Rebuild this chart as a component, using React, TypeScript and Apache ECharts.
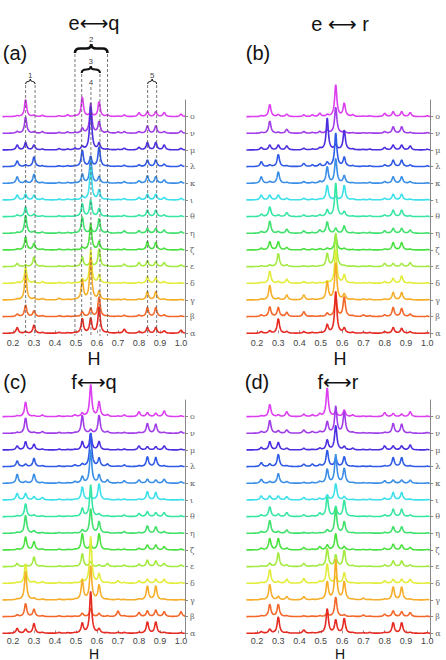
import React, { useEffect, useRef } from "react";
import * as echarts from "echarts";

// Trace labels, bottom (α) to top (ο)
const traceNames = ["α", "β", "γ", "δ", "ε", "ζ", "η", "θ", "ι", "κ", "λ", "μ", "ν", "ο"];
const traceColors = [
  "#e52a22", "#f3672a", "#f5ad2a", "#e2ec3a", "#a2ea40", "#4ae040", "#40e06c",
  "#38e6a4", "#3ce0ea", "#3a8ee6", "#2f5ae6", "#4a2ee0", "#a03de8", "#dc3ef0",
];

// Peak positions along H shared by every spectrum
const peakCenters = [0.22, 0.26, 0.3, 0.34, 0.42, 0.46, 0.495, 0.53, 0.57, 0.61, 0.65, 0.7, 0.73, 0.8, 0.84, 0.88, 0.92, 1.0];

// Peak heights (in units of the trace spacing), one row per trace α..ο
const heightsEQ = [
  [0.35, 0.1, 0.5, 0.05, 0.05, 0.03, 0.03, 0.9, 0.9, 1.6, 0.05, 0.03, 0.25, 0.1, 0.35, 0.35, 0.15, 0.2],
  [0.15, 0.7, 0.35, 0.05, 0.05, 0.03, 0.03, 0.3, 0.5, 1.2, 0.05, 0.03, 0.08, 0.08, 0.55, 0.55, 0.1, 0.05],
  [0.05, 1.6, 0.1, 0.08, 0.1, 0.03, 0.03, 1.2, 2.5, 0.5, 0.05, 0.03, 0.05, 0.05, 0.5, 0.5, 0.05, 0.03],
  [0.05, 1.0, 0.1, 0.1, 0.05, 0.05, 0.03, 0.25, 2.0, 0.5, 0.03, 0.03, 0.05, 0.05, 0.4, 0.35, 0.1, 0.03],
  [0.2, 0.1, 0.6, 0.05, 0.05, 0.05, 0.03, 0.6, 0.4, 1.1, 0.05, 0.03, 0.15, 0.25, 0.35, 0.3, 0.25, 0.1],
  [0.05, 0.8, 0.4, 0.05, 0.05, 0.03, 0.03, 0.15, 1.6, 0.5, 0.03, 0.03, 0.05, 0.05, 0.5, 0.45, 0.1, 0.05],
  [0.05, 1.1, 0.1, 0.08, 0.05, 0.05, 0.03, 1.0, 0.3, 0.9, 0.1, 0.03, 0.15, 0.15, 0.3, 0.3, 0.2, 0.1],
  [0.1, 0.6, 0.15, 0.05, 0.05, 0.03, 0.03, 0.8, 1.0, 0.5, 0.05, 0.03, 0.08, 0.1, 0.4, 0.4, 0.1, 0.05],
  [0.3, 0.35, 0.3, 0.08, 0.05, 0.05, 0.05, 0.2, 2.0, 0.6, 0.05, 0.03, 0.08, 0.15, 0.35, 0.35, 0.15, 0.1],
  [0.4, 0.15, 0.55, 0.05, 0.05, 0.05, 0.03, 0.55, 1.5, 0.4, 0.05, 0.03, 0.1, 0.15, 0.45, 0.4, 0.2, 0.1],
  [0.35, 0.1, 0.6, 0.05, 0.05, 0.05, 0.03, 1.0, 0.6, 1.2, 0.05, 0.03, 0.08, 0.1, 0.4, 0.4, 0.15, 0.1],
  [0.3, 0.45, 0.3, 0.05, 0.08, 0.05, 0.1, 0.2, 2.6, 0.4, 0.05, 0.03, 0.1, 0.15, 0.45, 0.45, 0.3, 0.1],
  [0.1, 1.0, 0.08, 0.1, 0.05, 0.08, 0.05, 0.3, 1.8, 0.7, 0.1, 0.08, 0.1, 0.1, 0.45, 0.45, 0.1, 0.15],
  [0.05, 1.05, 0.08, 0.08, 0.05, 0.1, 0.05, 1.2, 0.3, 0.9, 0.1, 0.03, 0.1, 0.24, 0.3, 0.3, 0.25, 0.15],
];

const heightsER = [
  [0.1, 0.15, 0.9, 0.1, 0.1, 0.05, 0.03, 0.5, 2.5, 0.3, 0.05, 0.05, 0.05, 0.1, 0.35, 0.3, 0.1, 0.03],
  [0.1, 0.6, 0.55, 0.25, 0.3, 0.03, 0.03, 0.2, 1.2, 1.2, 0.05, 0.1, 0.05, 0.1, 0.55, 0.5, 0.15, 0.03],
  [0.05, 0.9, 0.1, 0.3, 0.3, 0.05, 0.03, 1.1, 2.2, 0.35, 0.05, 0.05, 0.05, 0.05, 0.45, 0.45, 0.05, 0.03],
  [0.05, 0.75, 0.1, 0.25, 0.1, 0.05, 0.03, 0.1, 2.0, 0.5, 0.03, 0.03, 0.05, 0.1, 0.3, 0.45, 0.05, 0.03],
  [0.05, 0.1, 0.8, 0.1, 0.05, 0.03, 0.03, 0.8, 2.0, 0.05, 0.03, 0.03, 0.05, 0.2, 0.2, 0.2, 0.25, 0.03],
  [0.1, 0.5, 0.5, 0.15, 0.08, 0.05, 0.08, 0.1, 0.9, 0.1, 0.03, 0.03, 0.03, 0.05, 0.45, 0.45, 0.05, 0.03],
  [0.1, 0.75, 0.1, 0.25, 0.15, 0.05, 0.2, 0.7, 0.3, 0.45, 0.05, 0.05, 0.05, 0.15, 0.3, 0.3, 0.2, 0.03],
  [0.15, 0.6, 0.1, 0.25, 0.1, 0.05, 0.1, 0.4, 2.0, 0.3, 0.03, 0.03, 0.05, 0.1, 0.4, 0.4, 0.05, 0.03],
  [0.3, 0.3, 0.3, 0.1, 0.1, 0.05, 0.05, 0.9, 0.2, 0.9, 0.05, 0.03, 0.05, 0.1, 0.35, 0.35, 0.05, 0.03],
  [0.4, 0.1, 0.7, 0.05, 0.1, 0.05, 0.1, 1.0, 1.5, 0.45, 0.03, 0.03, 0.05, 0.1, 0.4, 0.4, 0.1, 0.03],
  [0.3, 0.1, 0.75, 0.05, 0.2, 0.1, 0.15, 0.25, 2.0, 0.55, 0.05, 0.03, 0.05, 0.1, 0.4, 0.4, 0.1, 0.05],
  [0.15, 0.3, 0.3, 0.25, 0.1, 0.05, 0.1, 1.9, 0.3, 1.2, 0.05, 0.03, 0.05, 0.15, 0.3, 0.3, 0.25, 0.05],
  [0.05, 0.75, 0.05, 0.25, 0.1, 0.05, 0.1, 0.2, 1.6, 0.1, 0.03, 0.03, 0.03, 0.1, 0.4, 0.4, 0.05, 0.05],
  [0.05, 0.75, 0.12, 0.15, 0.1, 0.1, 0.2, 0.1, 1.9, 0.8, 0.1, 0.03, 0.05, 0.2, 0.3, 0.3, 0.25, 0.05],
];

const heightsFQ = [
  [0.3, 0.25, 0.6, 0.05, 0.05, 0.03, 0.03, 0.6, 2.5, 0.25, 0.03, 0.05, 0.05, 0.05, 0.7, 0.7, 0.05, 0.03],
  [0.1, 0.8, 0.45, 0.05, 0.05, 0.03, 0.03, 0.2, 0.5, 0.2, 0.05, 0.35, 0.05, 0.25, 0.35, 0.4, 0.3, 0.3],
  [0.05, 1.7, 0.1, 0.05, 0.05, 0.03, 0.03, 1.2, 2.0, 0.9, 0.03, 0.05, 0.03, 0.05, 0.85, 0.85, 0.05, 0.03],
  [0.05, 1.2, 0.1, 0.1, 0.05, 0.03, 0.03, 0.2, 2.8, 0.55, 0.05, 0.15, 0.05, 0.15, 0.25, 0.25, 0.25, 0.05],
  [0.2, 0.1, 0.6, 0.05, 0.05, 0.03, 0.03, 0.8, 0.3, 0.1, 0.2, 0.03, 0.1, 0.15, 0.4, 0.35, 0.2, 0.1],
  [0.05, 0.8, 0.5, 0.05, 0.05, 0.03, 0.03, 1.0, 0.3, 1.0, 0.05, 0.03, 0.05, 0.1, 0.3, 0.3, 0.2, 0.05],
  [0.05, 1.1, 0.15, 0.05, 0.05, 0.03, 0.03, 0.2, 1.5, 0.7, 0.05, 0.03, 0.1, 0.05, 0.45, 0.4, 0.1, 0.03],
  [0.05, 0.8, 0.1, 0.05, 0.05, 0.03, 0.03, 0.5, 1.9, 0.15, 0.05, 0.03, 0.1, 0.2, 0.3, 0.25, 0.25, 0.05],
  [0.4, 0.4, 0.2, 0.15, 0.05, 0.03, 0.03, 0.8, 0.2, 1.0, 0.05, 0.03, 0.05, 0.05, 0.5, 0.45, 0.05, 0.03],
  [0.55, 0.1, 0.55, 0.05, 0.05, 0.03, 0.1, 0.4, 2.0, 0.5, 0.2, 0.03, 0.15, 0.2, 0.25, 0.2, 0.25, 0.1],
  [0.35, 0.15, 0.5, 0.05, 0.05, 0.03, 0.1, 0.15, 2.0, 0.5, 0.15, 0.03, 0.1, 0.05, 0.6, 0.55, 0.05, 0.05],
  [0.25, 0.5, 0.35, 0.05, 0.05, 0.03, 0.03, 0.5, 1.0, 0.5, 0.03, 0.03, 0.05, 0.25, 0.2, 0.2, 0.25, 0.05],
  [0.05, 0.95, 0.05, 0.1, 0.05, 0.03, 0.03, 1.1, 0.2, 1.1, 0.1, 0.03, 0.05, 0.05, 0.6, 0.55, 0.05, 0.1],
  [0.05, 0.9, 0.05, 0.1, 0.05, 0.03, 0.1, 0.2, 1.9, 0.9, 0.1, 0.03, 0.1, 0.3, 0.25, 0.2, 0.35, 0.05],
];

const heightsFR = [
  [0.1, 0.25, 1.0, 0.05, 0.2, 0.03, 0.03, 1.5, 0.8, 0.9, 0.03, 0.03, 0.05, 0.05, 0.65, 0.65, 0.05, 0.03],
  [0.05, 0.75, 0.75, 0.05, 0.05, 0.03, 0.05, 0.2, 1.2, 0.1, 0.03, 0.1, 0.03, 0.15, 0.35, 0.3, 0.25, 0.03],
  [0.05, 0.95, 0.2, 0.2, 0.2, 0.03, 0.03, 1.1, 2.4, 1.1, 0.03, 0.1, 0.03, 0.05, 0.8, 0.8, 0.05, 0.03],
  [0.05, 0.85, 0.1, 0.25, 0.3, 0.03, 0.1, 1.2, 0.4, 0.65, 0.03, 0.03, 0.03, 0.15, 0.25, 0.25, 0.25, 0.03],
  [0.05, 0.2, 0.85, 0.1, 0.2, 0.05, 0.1, 1.1, 0.7, 1.0, 0.05, 0.03, 0.03, 0.1, 0.35, 0.35, 0.1, 0.03],
  [0.1, 0.7, 0.7, 0.1, 0.15, 0.05, 0.2, 0.3, 1.0, 0.2, 0.05, 0.03, 0.03, 0.1, 0.35, 0.3, 0.15, 0.03],
  [0.1, 0.8, 0.1, 0.2, 0.05, 0.03, 0.03, 0.2, 1.5, 0.7, 0.03, 0.03, 0.03, 0.05, 0.4, 0.4, 0.05, 0.03],
  [0.1, 0.6, 0.15, 0.25, 0.1, 0.05, 0.2, 1.2, 0.6, 1.0, 0.03, 0.03, 0.03, 0.1, 0.45, 0.45, 0.1, 0.03],
  [0.25, 0.25, 0.25, 0.2, 0.15, 0.05, 0.1, 0.3, 1.0, 0.2, 0.03, 0.03, 0.05, 0.1, 0.45, 0.45, 0.05, 0.03],
  [0.25, 0.1, 0.6, 0.1, 0.05, 0.05, 0.1, 0.85, 1.7, 0.9, 0.03, 0.03, 0.03, 0.15, 0.2, 0.2, 0.2, 0.03],
  [0.25, 0.15, 0.75, 0.05, 0.15, 0.15, 0.1, 1.0, 0.5, 0.6, 0.03, 0.03, 0.03, 0.05, 0.55, 0.55, 0.05, 0.03],
  [0.15, 0.5, 0.45, 0.1, 0.1, 0.03, 0.1, 0.6, 1.5, 0.2, 0.1, 0.03, 0.03, 0.25, 0.25, 0.25, 0.3, 0.03],
  [0.1, 0.8, 0.15, 0.2, 0.2, 0.1, 0.1, 0.7, 1.6, 1.3, 0.05, 0.03, 0.03, 0.05, 0.6, 0.55, 0.05, 0.05],
  [0.05, 0.75, 0.1, 0.3, 0.15, 0.1, 0.15, 1.7, 0.3, 0.4, 0.1, 0.03, 0.03, 0.25, 0.2, 0.15, 0.3, 0.03],
];

// H tick labels
const hTicks = [0.2, 0.3, 0.4, 0.5, 0.6, 0.7, 0.8, 0.9, 1.0];

// Grouping brackets drawn over panel (a): [from, to] in H, with their labels
const bracketSpans = [[0.26, 0.305], [0.495, 0.65], [0.527, 0.614], [0.841, 0.884]];
const bracketLabels = ["1", "2", "3", "5"];
const singleMarks = [0.571];
const singleLabels = ["4"];

// Panel layout
const panels = [
  { left: 2.5, top: 100, width: 182.5, xMax: 1.019, heights: heightsEQ, labelMargin: 0.5 },
  { left: 246.4, top: 100, width: 183.8, xMax: 1.014, heights: heightsER, labelMargin: 0.5 },
  { left: 2.5, top: 400, width: 182.5, xMax: 1.019, heights: heightsFQ, labelMargin: -1 },
  { left: 246.4, top: 400, width: 183.8, xMax: 1.014, heights: heightsFR, labelMargin: -1 },
];
const gridHeight = 237.5;
const yMin = -0.25;
const yMax = 14;

const sampleStep = 0.001;
const halfWidth = 0.0062;

function buildTrace(heights: number[], offset: number, xMax: number): number[][] {
  const pts: number[][] = [];
  const n = Math.round((xMax - 0.15) / sampleStep);
  for (let k = 0; k <= n; k++) {
    const x = 0.15 + k * sampleStep;
    let y = offset;
    for (let j = 0; j < peakCenters.length; j++) {
      const d = (x - peakCenters[j]) / halfWidth;
      y += heights[j] / (1 + d * d);
    }
    pts.push([x, y]);
  }
  return pts;
}

// pixel styling of the brackets: [tipY, endY, lineWidth, labelY]
const bracketStyle = [
  [79, 84, 1, 75],
  [44, 53, 2.6, 39],
  [66, 73, 2, 61],
  [79, 84, 1, 75],
];
const singleStyle = [[87, 82]];

function bracePath(x1: number, x2: number, yt: number, yb: number): string {
  const xm = (x1 + x2) / 2;
  const yh = (yt + yb) / 2;
  const r = Math.min(5, (x2 - x1) / 4);
  return (
    `M${x1},${yb} Q${x1},${yh} ${x1 + r},${yh} L${xm - r},${yh} Q${xm},${yh} ${xm},${yt} ` +
    `Q${xm},${yh} ${xm + r},${yh} L${x2 - r},${yh} Q${x2},${yh} ${x2},${yb}`
  );
}

function buildOption() {
  const font = "'Liberation Sans', Arial, 'DejaVu Sans', sans-serif";
  const grid = panels.map((p) => ({ left: p.left, top: p.top, width: p.width, height: gridHeight }));
  const xAxis = panels.map((p, i) => ({
    type: "value",
    gridIndex: i,
    min: 0.15,
    max: p.xMax,
    splitLine: { show: false },
    axisLine: { show: false },
    axisTick: { show: true, inside: true, length: 3, customValues: hTicks, lineStyle: { color: "#999", width: 1 } },
    axisLabel: {
      customValues: hTicks,
      formatter: (v: number) => v.toFixed(1),
      fontSize: 9,
      color: "#444",
      margin: p.labelMargin,
      fontFamily: font,
    },
  }));
  const traceIdx = traceNames.map((_, i) => i);
  const yAxis = panels.map((_, i) => ({
    type: "value",
    gridIndex: i,
    position: "right",
    min: yMin,
    max: yMax,
    splitLine: { show: false },
    axisLine: { show: true, lineStyle: { color: "#888", width: 1 } },
    axisTick: { show: true, length: 3, customValues: traceIdx, lineStyle: { color: "#888" } },
    axisLabel: {
      customValues: traceIdx,
      formatter: (v: number) => traceNames[Math.round(v)] ?? "",
      fontSize: 8,
      color: "#666",
      margin: 5,
      fontFamily: "'DejaVu Serif', serif",
    },
  }));

  const series: any[] = [];
  panels.forEach((p, pi) => {
    for (let i = traceNames.length - 1; i >= 0; i--) {
      series.push({
        type: "line",
        name: `${pi}-${traceNames[i]}`,
        xAxisIndex: pi,
        yAxisIndex: pi,
        data: buildTrace(p.heights[i], i, p.xMax),
        showSymbol: false,
        symbol: "none",
        clip: false,
        silent: true,
        lineStyle: { color: traceColors[i], width: 1.6 },
      });
    }
  });

  // dashed guides and brackets of panel (a)
  series.push({
    type: "custom",
    xAxisIndex: 0,
    yAxisIndex: 0,
    silent: true,
    clip: false,
    z: 5,
    data: [[0.5, 0]],
    renderItem: (_params: any, api: any) => {
      const children: any[] = [];
      const yBottom = api.coord([0.5, -0.15])[1];
      const dash = { stroke: "#555", lineWidth: 0.8, lineDash: [3, 2] };
      bracketSpans.forEach((span, k) => {
        const [tip, end, lw, ly] = bracketStyle[k];
        const x1 = api.coord([span[0], 0])[0];
        const x2 = api.coord([span[1], 0])[0];
        children.push({ type: "line", shape: { x1, y1: end + 1, x2: x1, y2: yBottom }, style: dash });
        children.push({ type: "line", shape: { x1: x2, y1: end + 1, x2, y2: yBottom }, style: dash });
        children.push({
          type: "path",
          shape: { pathData: bracePath(x1, x2, tip, end) },
          style: { fill: "none", stroke: "#111", lineWidth: lw },
        });
        children.push({
          type: "text",
          x: (x1 + x2) / 2,
          y: ly,
          style: { text: bracketLabels[k], fontSize: 8, fill: "#444", align: "center", verticalAlign: "middle", fontFamily: font },
        });
      });
      singleMarks.forEach((h, k) => {
        const [top, ly] = singleStyle[k];
        const x = api.coord([h, 0])[0];
        children.push({ type: "line", shape: { x1: x, y1: top, x2: x, y2: yBottom }, style: dash });
        children.push({
          type: "text",
          x,
          y: ly,
          style: { text: singleLabels[k], fontSize: 8, fill: "#444", align: "center", verticalAlign: "middle", fontFamily: font },
        });
      });
      return { type: "group", children };
    },
  });

  const txt = (text: string, x: number, y: number, size: number) => ({
    type: "text",
    x,
    y,
    silent: true,
    style: { text, fontSize: size, fill: "#111", align: "center", verticalAlign: "middle", fontFamily: font },
  });

  const graphic = [
    txt("e⟷q", 94, 23, 20),
    txt("e ⟷ r", 340, 24, 20),
    txt("(a)", 15, 53, 20),
    txt("(b)", 258, 53, 20),
    txt("H", 94, 359, 18),
    txt("H", 340, 359, 18),
    txt("(c)", 15, 382, 20),
    txt("(d)", 257, 382, 20),
    txt("f⟷q", 94, 382, 20),
    txt("f⟷r", 338, 382, 20),
    txt("H", 94, 653.5, 14),
    txt("H", 340, 653.5, 14),
  ];

  return { animation: false, backgroundColor: "#ffffff", grid, xAxis, yAxis, series, graphic };
}

export default function App() {
  const ref = useRef<HTMLDivElement>(null);
  useEffect(() => {
    if (!ref.current) return;
    const chart = echarts.init(ref.current, null, { renderer: "svg" });
    chart.setOption(buildOption() as any);
    return () => chart.dispose();
  }, []);
  return <div ref={ref} style={{ position: "absolute", left: 0, top: 0, width: 446, height: 660 }} />;
}
